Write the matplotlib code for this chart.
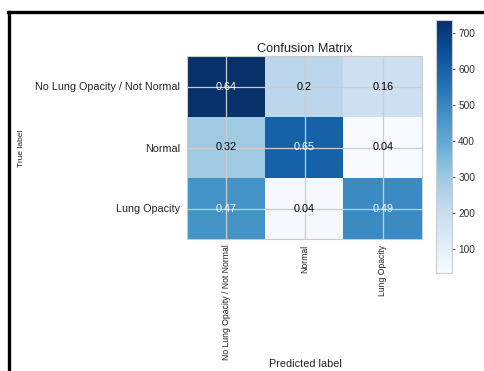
import numpy as np
import matplotlib
matplotlib.use("Agg")
import matplotlib.pyplot as plt
from matplotlib.lines import Line2D

classes = ["No Lung Opacity / Not Normal", "Normal", "Lung Opacity"]
counts_row0 = [736, 230, 184]
counts_row1 = [294, 600, 34]
counts_row2 = [470, 40, 490]
colorbar_ticks = [100, 200, 300, 400, 500, 600, 700]

cm = np.array([counts_row0, counts_row1, counts_row2], dtype=float)
cm_norm = np.round(cm / cm.sum(axis=1, keepdims=True), 2)

plt.rcParams['font.family'] = ['Liberation Sans', 'DejaVu Sans']
fig = plt.figure(figsize=(4.85, 3.71), dpi=100)
fig.patch.set_facecolor('white')

ax = fig.add_axes([187/485, 1-239/371, (422-187)/485, (239-56)/371])
cax = fig.add_axes([436/485, 1-273/371, 16/485, (273-20)/371])

im = ax.imshow(cm, interpolation='nearest', cmap=plt.cm.Blues, aspect='auto')
ax.set_title("Confusion Matrix", fontsize=9.2, color='#222222', pad=3)
cb = fig.colorbar(im, cax=cax)
cb.set_ticks(colorbar_ticks)
cb.ax.tick_params(labelsize=7.3, colors='#333333', length=2.5, width=0.6, pad=2)
cb.outline.set_edgecolor('#cccccc')
cb.outline.set_linewidth(0.8)

ticks = np.arange(len(classes))
ax.set_xticks(ticks)
ax.set_yticks(ticks)
ax.set_xticklabels(classes, rotation=90, fontsize=6.2, color='#222222')
ax.set_yticklabels(classes, fontsize=7.75, color='#222222')
ax.tick_params(axis='y', length=0, pad=5)
ax.tick_params(axis='x', length=0, pad=4)
ax.grid(True, color='#cccccc', linewidth=0.9)
for s in ax.spines.values():
    s.set_edgecolor('#cccccc')
    s.set_linewidth(0.8)

thresh = cm.max() / 2.0
for i in range(cm.shape[0]):
    for j in range(cm.shape[1]):
        ax.text(j, i, f"{cm_norm[i, j]:g}", ha='center', va='center', fontsize=7.8,
                color='white' if cm[i, j] > thresh else 'black')

fig.text(22/485, 1-148/371, "True label", rotation=90, ha='center', va='center',
         fontsize=6.0, color='#222222')
fig.text(305/485, 1-364/371, "Predicted label", ha='center', va='center', fontsize=7.8, color='#222222')

# screenshot frame
fig.add_artist(Line2D([8/485, 1], [1-12/371, 1-12/371], color='black', linewidth=2.4, transform=fig.transFigure))
fig.add_artist(Line2D([9.5/485, 9.5/485], [0, 1-12/371], color='black', linewidth=2.4, transform=fig.transFigure))

fig.savefig("out.png", dpi=100, facecolor='white')
